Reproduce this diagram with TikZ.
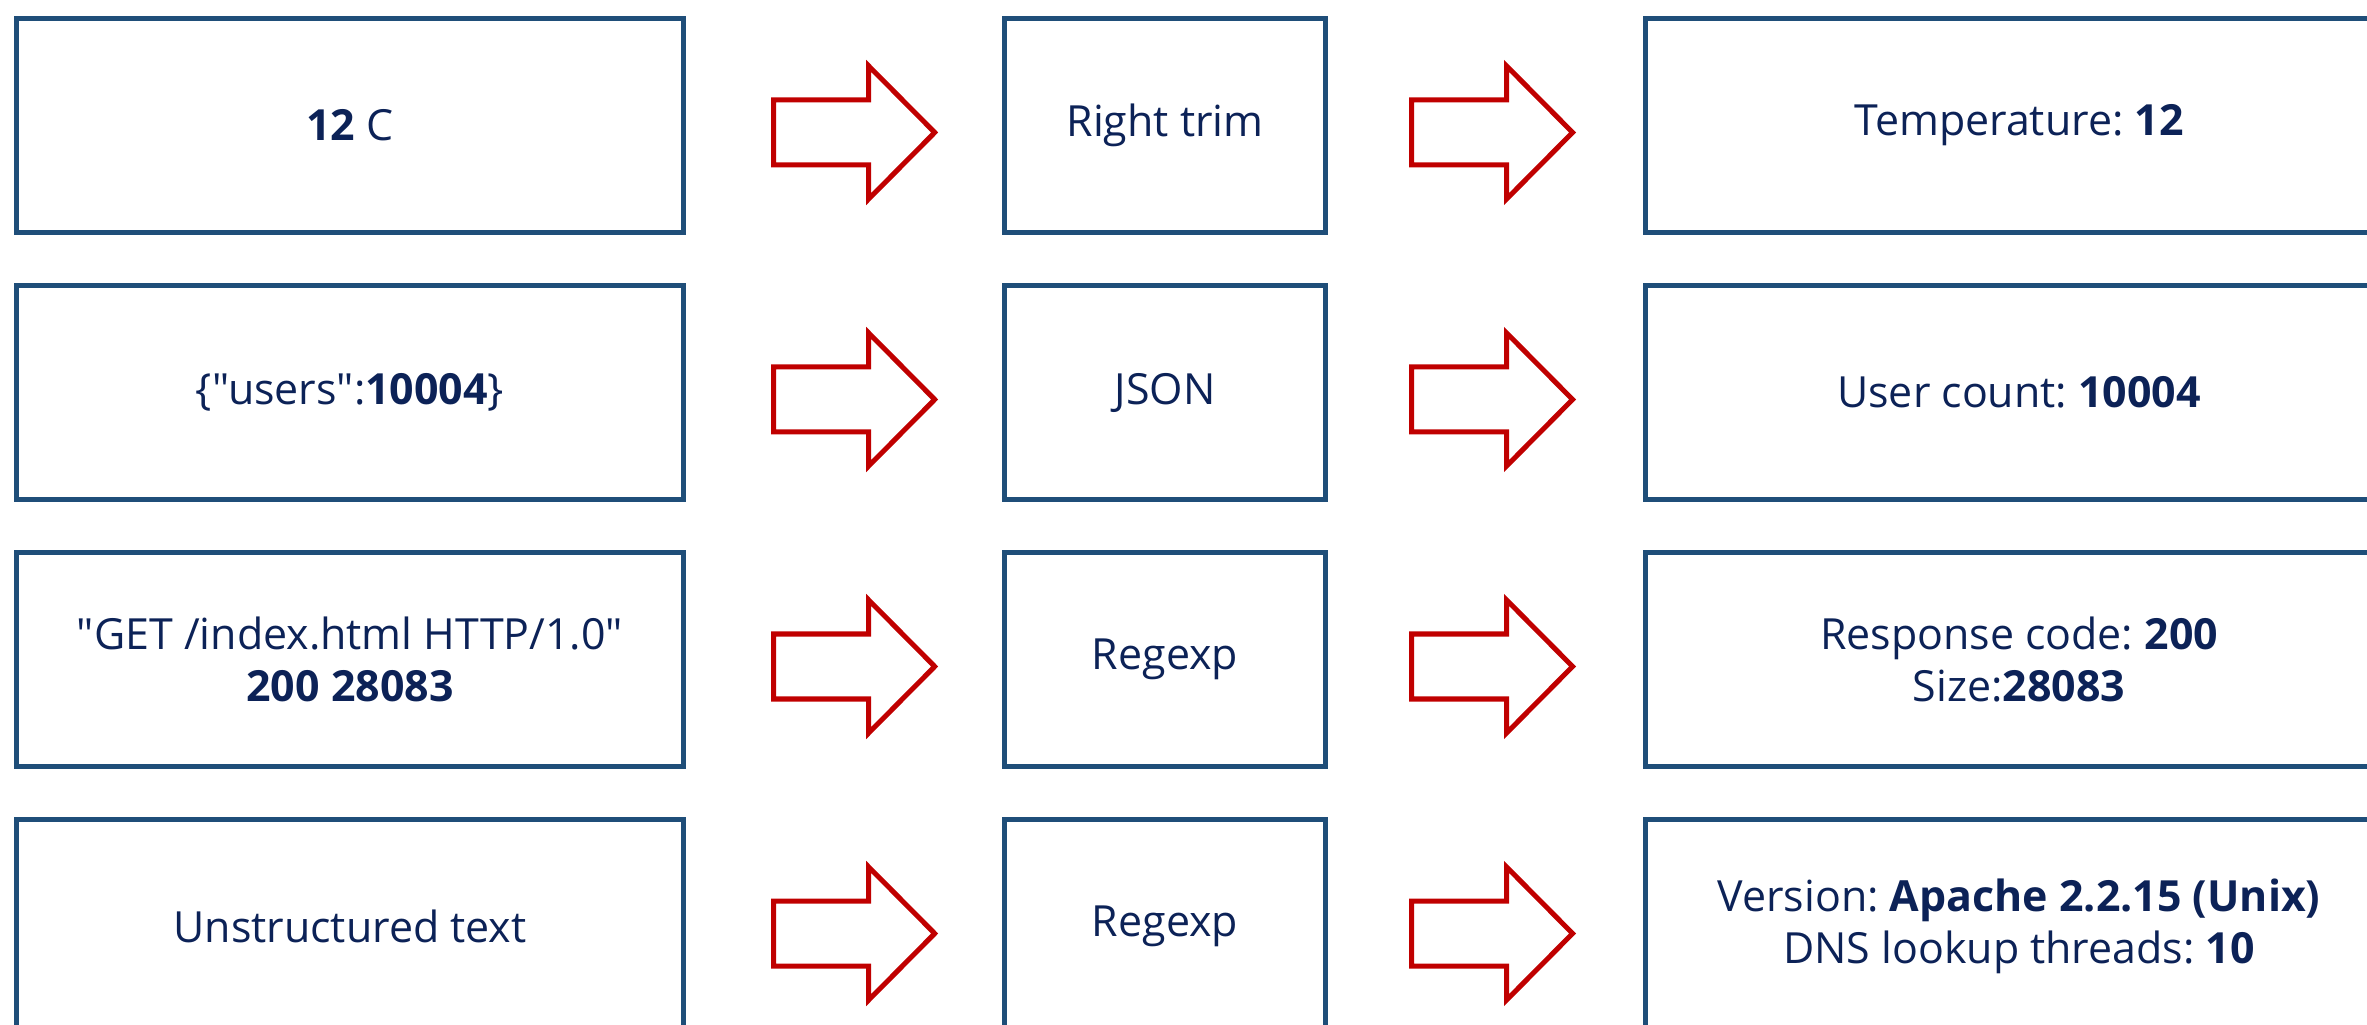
\documentclass[tikz,border=0pt]{standalone}
\usepackage{fontspec}
\newfontfamily\boxfont{Open Sans}
\usetikzlibrary{calc}
\frenchspacing

\definecolor{boxblue}{HTML}{1F4E79}
\definecolor{arrowred}{HTML}{C00000}
\definecolor{textnavy}{HTML}{0C2257}

\tikzset{pics/fatarrow/.style={code={
  \draw[fat] (0,-32.5) -- (95,-32.5) -- (95,-66.5) -- (161,0)
             -- (95,66.5) -- (95,32.5) -- (0,32.5) -- cycle;}}}

\begin{document}
\begin{tikzpicture}[x=0.01cm,y=-0.01cm,
    every node/.style={font=\boxfont\fontsize{12.2}{14.6}\selectfont,
                       text=textnavy,align=center},
    box/.style={draw=boxblue,line width=0.05cm,minimum height=2.14cm,
                inner sep=0pt},
    inbox/.style={box,minimum width=6.66cm},
    stepbox/.style={box,minimum width=3.2cm},
    outbox/.style={box,minimum width=7.46cm},
    fat/.style={draw=arrowred,line width=0.05cm,line join=miter}]
  \useasboundingbox (0,0) rectangle (2367,1025);

  \path   (350,125.5) node [inbox]   (raw1)   {\textbf{12} C}
         +(815,0)     node [stepbox] (parse1) {Right trim}
         +(1669,0)    node [outbox]  (value1) {Temperature: \textbf{12}}
        ++(0,267)     node [inbox]   (raw2)   {\{"users":\textbf{10004}\}}
         +(815,0)     node [stepbox] (parse2) {JSON}
         +(1669,0)    node [outbox]  (value2) {User count: \textbf{10004}}
        ++(0,267)     node [inbox]   (raw3)   {"GET /index.html HTTP/1.0"\\
                                               \textbf{200 28083}}
         +(815,0)     node [stepbox] (parse3) {Regexp}
         +(1669,0)    node [outbox]  (value3) {Response code: \textbf{200}\\
                                               Size:\textbf{28083}}
        ++(0,267)     node [inbox]   (raw4)   {Unstructured text}
         +(815,0)     node [stepbox] (parse4) {Regexp}
         +(1669,0)    node [outbox]  (value4) {Version: \textbf{Apache 2.2.15 (Unix)}\\
                                               DNS lookup threads: \textbf{10}};

  % block arrows between the columns
  \foreach \r in {1,...,4} {
    \path ($(raw\r.east)+(88,7)$)   pic {fatarrow};
    \path ($(parse\r.east)+(84,7)$) pic {fatarrow};
  }
\end{tikzpicture}
\end{document}
